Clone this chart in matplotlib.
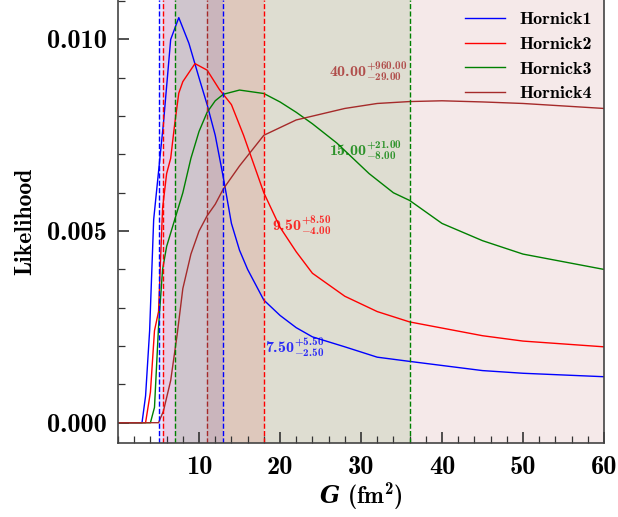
import numpy as np
import matplotlib.pyplot as plt
from matplotlib.ticker import MultipleLocator

plt.rcParams['font.family'] = 'cmb10'
plt.rcParams['mathtext.fontset'] = 'custom'
plt.rcParams['mathtext.rm'] = 'cmb10'
plt.rcParams['mathtext.bf'] = 'cmb10'
plt.rcParams['mathtext.it'] = 'cmmi10'
plt.rcParams['mathtext.bfit'] = 'DejaVu Serif:italic:bold'
plt.rcParams['mathtext.fallback'] = 'cm'
plt.rcParams['axes.unicode_minus'] = False

# likelihood curves
g1 = [0, 2.96, 3.4, 3.9, 4.4, 5.6, 6.5, 7.5, 8.75, 10, 11, 12, 13, 14, 15, 16, 18, 20, 22, 24, 28, 32, 36, 45, 50, 60]
l1 = [0, 0, 0.0007, 0.0024, 0.0053, 0.0078, 0.0100, 0.01057, 0.0099, 0.0090, 0.0083, 0.0075, 0.0064, 0.0052, 0.0045, 0.0040,
      0.0032, 0.0028, 0.00248, 0.00224, 0.00198, 0.00171, 0.0016, 0.00136, 0.00129, 0.0012]

g2 = [0, 3.4, 4.0, 4.5, 5.0, 5.5, 6, 6.5, 7, 7.5, 8, 9.5, 11, 12.5, 14, 15.5, 18, 20, 22, 24, 28, 32, 36, 45, 50, 60]
l2 = [0, 0, 0.0008, 0.0024, 0.0029, 0.0056, 0.0065, 0.0069, 0.0078, 0.0086, 0.0089, 0.00937, 0.0092, 0.0087, 0.0083, 0.0075,
      0.0060, 0.0051, 0.00446, 0.0039, 0.0033, 0.0029, 0.00263, 0.00227, 0.00213, 0.00198]

g3 = [0, 4, 4.5, 5, 5.5, 6, 7, 8, 9, 10, 11, 12, 13, 15, 18, 20, 22, 24, 27, 31, 34, 36, 40, 45, 50, 60]
l3 = [0, 0, 0.0004, 0.0025, 0.0040, 0.0046, 0.0053, 0.0060, 0.0069, 0.0076, 0.0081, 0.0084, 0.00857, 0.00868, 0.00859,
      0.00837, 0.0081, 0.0078, 0.0073, 0.0065, 0.0060, 0.0058, 0.0052, 0.00475, 0.0044, 0.0040]

g4 = [0, 5, 5.6, 6.5, 7.3, 8, 9, 10, 11, 12, 13, 15, 18, 20, 22, 24, 28, 32, 36, 40, 45, 50, 60]
l4 = [0, 0, 0.0003, 0.0011, 0.0023, 0.0035, 0.0044, 0.0050, 0.0054, 0.0057, 0.0061, 0.0067, 0.0075, 0.0077, 0.0079,
      0.0080, 0.0082, 0.00833, 0.00838, 0.0084, 0.00837, 0.00833, 0.0082]

labels = ['Hornick1', 'Hornick2', 'Hornick3', 'Hornick4']
colors = ['blue', 'red', 'green', 'brown']
medians = [7.5, 9.5, 15.0, 40.0]
err_up = [5.5, 8.5, 21.0, 960.0]
err_dn = [2.5, 4.0, 8.0, 29.0]
# where the value labels sit (G, likelihood)
text_x = [18.2, 19.0, 26.1, 26.0]
text_y = [0.00195, 0.00513, 0.00711, 0.00915]

fig = plt.figure(figsize=(6.18, 5.17), dpi=100)
ax = fig.add_axes([0.191, 0.1431, 0.7863, 0.8569])

curves = [(g1, l1), (g2, l2), (g3, l3), (g4, l4)]
for (g, l), lab, c in zip(curves, labels, colors):
    ax.plot(g, l, color=c, lw=1.0, label=lab)

for i in range(4):
    lo = medians[i] - err_dn[i]
    hi = medians[i] + err_up[i]
    ax.axvspan(lo, hi, color=colors[i], alpha=0.1, lw=0)
    ax.axvline(lo, color=colors[i], ls='--', lw=1.0)
    ax.axvline(hi, color=colors[i], ls='--', lw=1.0)
    s = r'$\mathbf{%.2f}^{\mathbf{+%.2f}}_{\mathbf{-%.2f}}$' % (medians[i], err_up[i], err_dn[i])
    ax.text(text_x[i], text_y[i], s, color=colors[i], fontsize=11.5, ha='left', va='center', alpha=0.8)

ax.set_xlim(0, 60)
ax.set_ylim(-0.00053, 0.01103)
ax.set_xticks([10, 20, 30, 40, 50, 60])
ax.set_yticks([0.0, 0.005, 0.010])
ax.set_yticklabels(['0.000', '0.005', '0.010'])
ax.xaxis.set_minor_locator(MultipleLocator(2))
ax.yaxis.set_minor_locator(MultipleLocator(0.001))
ax.tick_params(which='both', direction='in', labelsize=19, colors='#333333', labelcolor='black')
ax.tick_params(which='major', length=8, width=1.2)
ax.tick_params(which='minor', length=5, width=0.9)
ax.tick_params(axis='y', pad=8)
ax.tick_params(axis='x', pad=9)
for sp in ax.spines.values():
    sp.set_color('#444444')
    sp.set_linewidth(1.2)
ax.spines['top'].set_visible(False)

ax.set_xlabel(r'$\boldsymbol{G}$ (fm$^{\mathbf{2}}$)', fontsize=17, labelpad=2)
ax.set_ylabel('Likelihood', fontsize=17, labelpad=8)

ax.legend(loc='upper right', frameon=False, fontsize=13, handlelength=2.2, borderaxespad=0.25)

fig.savefig('out.png', dpi=100)
